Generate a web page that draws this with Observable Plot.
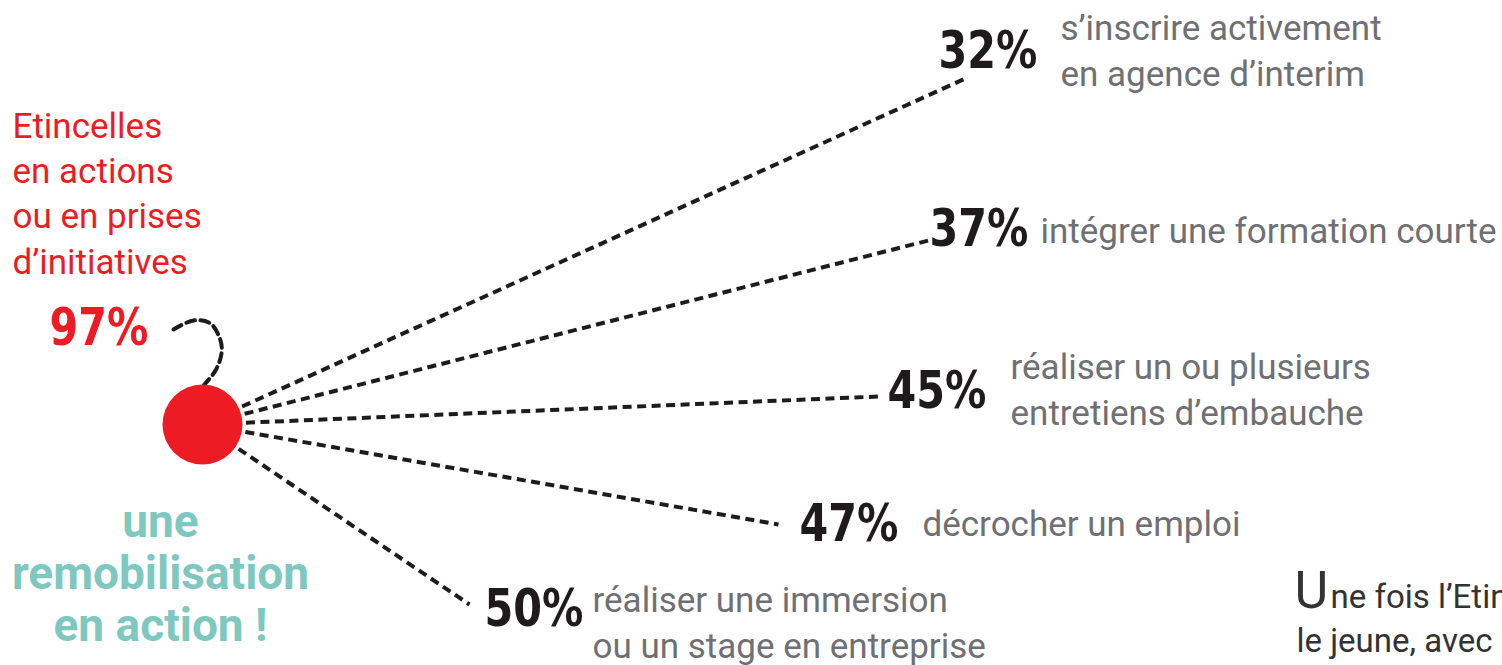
<!DOCTYPE html>
<html>
<head>
<meta charset="utf-8">
<script src="https://cdn.jsdelivr.net/npm/d3@7"></script>
<script src="https://cdn.jsdelivr.net/npm/@observablehq/plot@0.6"></script>
<style>
  html, body { margin: 0; padding: 0; background: #fff; overflow: hidden; }
  #chart { width: 1502px; height: 665px; overflow: hidden; }
  #chart svg { overflow: hidden !important; }
</style>
</head>
<body>
<div id="chart"></div>
<script>
// ---- data ----
const percentages = ["32%", "37%", "45%", "47%", "50%"];
const actions = [
  "s’inscrire activement\nen agence d’interim",
  "intégrer une formation courte",
  "réaliser un ou plusieurs\nentretiens d’embauche",
  "décrocher un emploi",
  "réaliser une immersion\nou un stage en entreprise"
];
const mainPct = "97%";
const mainLabel = "Etincelles\nen actions\nou en prises\nd’initiatives";
const tagline = "une\nremobilisation\nen action !";
const introCap = "U";
const introLine1 = "ne fois l’Etincelle terminée,";
const introLine2 = "le jeune, avec";

// ---- layout (pixel positions of the infographic) ----
const center = {x: 202, y: 424};
const endX = [967, 928, 878, 778, 469];
const endY = [77, 240, 396, 524, 604];
const pctX = [938, 929, 887, 799, 484];
const pctY = [67, 245, 407, 540, 625];
const labX = [1060, 1040, 1010, 922, 592];
const labY = [85, 242, 424, 535, 657];
const hookX = [173, 193, 210, 220, 221, 215, 203];
const hookY = [329, 320, 323, 340, 353, 370, 385];

const rows = percentages.map((p, i) => ({
  pct: p, action: actions[i],
  x1: center.x, y1: center.y, x2: endX[i], y2: endY[i],
  px: pctX[i], py: pctY[i], lx: labX[i], ly: labY[i]
}));
const hook = hookX.map((x, i) => ({x, y: hookY[i]}));

const dark = "#1f1b1c", red = "#ed1c24", gray = "#6f7073", teal = "#7fc8c0";
const dash = "9,5.5";
const pctFont = "'Liberation Sans Narrow', 'DejaVu Sans Condensed', 'DejaVu Sans', sans-serif";
const pctStyle = {fontStretch: "condensed", letterSpacing: "1.5px"};

const chart = Plot.plot({
  width: 1502,
  height: 665,
  margin: 0,
  x: {domain: [0, 1502], range: [0, 1502], axis: null},
  y: {domain: [0, 665], range: [0, 665], axis: null},
  style: {background: "#fff"},
  marks: [
    Plot.link(rows, {x1: "x1", y1: "y1", x2: "x2", y2: "y2",
      stroke: dark, strokeWidth: 4, strokeDasharray: dash}),
    Plot.line(hook, {x: "x", y: "y", curve: "catmull-rom",
      stroke: dark, strokeWidth: 4, strokeDasharray: dash}),
    Plot.dot([center], {x: "x", y: "y", r: 40, fill: red, stroke: "none"}),
    Plot.text(rows, {x: "px", y: "py", text: "pct", textAnchor: "start", lineAnchor: "bottom",
      fontFamily: pctFont, fontWeight: "bold", fontSize: 51, fill: dark, style: pctStyle}),
    Plot.text(rows, {x: "lx", y: "ly", text: "action", textAnchor: "start", lineAnchor: "bottom",
      fontFamily: "Roboto", fontSize: 35, lineHeight: 1.29, fill: gray}),
    Plot.text([mainLabel], {x: 12, y: 273, text: d => d, textAnchor: "start", lineAnchor: "bottom",
      fontFamily: "Roboto", fontSize: 35, lineHeight: 1.29, fill: red}),
    Plot.text([mainPct], {x: 49, y: 344, text: d => d, textAnchor: "start", lineAnchor: "bottom",
      fontFamily: pctFont, fontWeight: "bold", fontSize: 51, fill: red, style: pctStyle}),
    Plot.text([tagline], {x: 160, y: 640, text: d => d, textAnchor: "middle", lineAnchor: "bottom",
      fontFamily: "Roboto", fontWeight: "bold", fontSize: 46, lineHeight: 1.12, fill: teal,
      style: {letterSpacing: "2.6px"}}),
    Plot.text([introCap], {x: 1294, y: 607, text: d => d, textAnchor: "start", lineAnchor: "bottom",
      fontFamily: "Roboto", fontSize: 52, fill: "#333"}),
    Plot.text([introLine1], {x: 1330, y: 607, text: d => d, textAnchor: "start", lineAnchor: "bottom",
      fontFamily: "Roboto", fontSize: 33, fill: "#333"}),
    Plot.text([introLine2], {x: 1296, y: 651, text: d => d, textAnchor: "start", lineAnchor: "bottom",
      fontFamily: "Roboto", fontSize: 33, fill: "#333"})
  ]
});
// narrow the bold percentage figures horizontally (condensed display face)
d3.select(chart).selectAll("text").filter(function() {
  return /%$/.test(this.textContent);
}).each(function() {
  const t = this.getAttribute("transform") || "";
  this.setAttribute("transform", t + " scale(0.9,1)");
});
document.getElementById("chart").appendChild(chart);
</script>
</body>
</html>
